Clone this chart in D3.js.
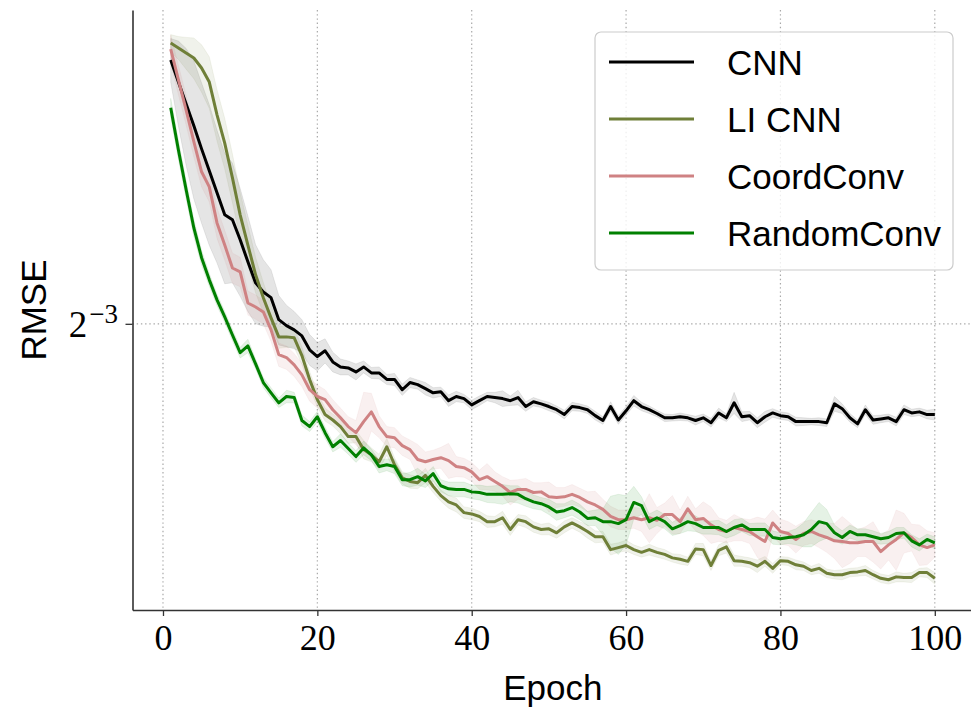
<!DOCTYPE html>
<html>
<head>
<meta charset="utf-8">
<script src="https://cdn.jsdelivr.net/npm/d3@7"></script>
<style>
  body { margin: 0; background: #fff; }
  svg { display: block; }
</style>
</head>
<body>
<div id="chart"></div>
<script>
// epochs 1..100
var epochs = d3.range(1, 101);

var seriesNames = ["CNN", "LI CNN", "CoordConv", "RandomConv"];
var seriesColors = ["#000000", "#6f7f38", "#cf8283", "#008000"];

// mean RMSE per epoch
var cnnMean = [0.1975,0.1901,0.1830,0.1762,0.1693,0.1630,0.1569,0.1510,0.1497,0.1446,
  0.1392,0.1342,0.1321,0.1308,0.1259,0.1246,0.1237,0.1224,0.1195,0.1181,
  0.1193,0.1170,0.1160,0.1158,0.1150,0.1160,0.1148,0.1148,0.1135,0.1135,
  0.1115,0.1129,0.1125,0.1117,0.1109,0.1111,0.1094,0.1102,0.1098,0.1086,
  0.1094,0.1102,0.1100,0.1098,0.1094,0.1100,0.1083,0.1092,0.1088,0.1083,
  0.1077,0.1068,0.1083,0.1081,0.1077,0.1066,0.1057,0.1083,0.1058,0.1075,
  0.1094,0.1083,0.1077,0.1070,0.1062,0.1062,0.1064,0.1062,0.1057,0.1062,
  0.1053,0.1071,0.1062,0.1090,0.1064,0.1066,0.1053,0.1064,0.1071,0.1066,
  0.1064,0.1055,0.1055,0.1055,0.1055,0.1053,0.1088,0.1079,0.1062,0.1051,
  0.1077,0.1058,0.1060,0.1062,0.1055,0.1077,0.1071,0.1073,0.1068,0.1068];

var liMean = [0.2034,0.2017,0.1999,0.1982,0.1948,0.1901,0.1796,0.1710,0.1610,0.1510,
  0.1433,0.1361,0.1308,0.1263,0.1222,0.1222,0.1220,0.1183,0.1135,0.1096,
  0.1068,0.1058,0.1046,0.1028,0.1028,0.1005,0.0996,0.0984,0.1010,0.0979,
  0.0957,0.0951,0.0949,0.0961,0.0943,0.0928,0.0918,0.0913,0.0901,0.0899,
  0.0895,0.0887,0.0887,0.0893,0.0875,0.0890,0.0887,0.0879,0.0875,0.0876,
  0.0870,0.0879,0.0885,0.0879,0.0872,0.0864,0.0864,0.0845,0.0848,0.0851,
  0.0845,0.0841,0.0845,0.0841,0.0838,0.0833,0.0831,0.0828,0.0846,0.0845,
  0.0822,0.0844,0.0849,0.0829,0.0828,0.0826,0.0821,0.0828,0.0818,0.0829,
  0.0828,0.0823,0.0821,0.0815,0.0818,0.0811,0.0809,0.0809,0.0812,0.0813,
  0.0815,0.0809,0.0804,0.0802,0.0806,0.0805,0.0805,0.0812,0.0812,0.0804];

var coordMean = [0.2013,0.1908,0.1811,0.1714,0.1627,0.1585,0.1489,0.1433,0.1377,0.1368,
  0.1296,0.1287,0.1276,0.1237,0.1185,0.1179,0.1164,0.1144,0.1115,0.1102,
  0.1096,0.1077,0.1062,0.1046,0.1035,0.1055,0.1073,0.1046,0.1028,0.1026,
  0.1012,0.1005,0.0988,0.0984,0.0988,0.0991,0.0986,0.0976,0.0974,0.0967,
  0.0954,0.0959,0.0951,0.0943,0.0933,0.0938,0.0938,0.0933,0.0934,0.0926,
  0.0925,0.0926,0.0930,0.0925,0.0918,0.0913,0.0906,0.0895,0.0890,0.0890,
  0.0893,0.0890,0.0893,0.0889,0.0898,0.0898,0.0887,0.0907,0.0890,0.0892,
  0.0882,0.0875,0.0872,0.0878,0.0875,0.0872,0.0864,0.0857,0.0885,0.0872,
  0.0869,0.0860,0.0869,0.0872,0.0867,0.0863,0.0858,0.0857,0.0855,0.0855,
  0.0857,0.0857,0.0842,0.0852,0.0860,0.0870,0.0863,0.0852,0.0848,0.0852];

var randMean = [0.1818,0.1690,0.1577,0.1476,0.1402,0.1349,0.1303,0.1265,0.1226,0.1189,
  0.1203,0.1166,0.1129,0.1109,0.1090,0.1102,0.1100,0.1057,0.1046,0.1064,
  0.1035,0.1010,0.1021,0.1007,0.0993,0.1008,0.0996,0.0976,0.0979,0.0976,
  0.0954,0.0954,0.0959,0.0952,0.0964,0.0944,0.0939,0.0938,0.0938,0.0934,
  0.0933,0.0930,0.0930,0.0930,0.0931,0.0930,0.0923,0.0918,0.0915,0.0910,
  0.0902,0.0904,0.0909,0.0902,0.0892,0.0893,0.0887,0.0887,0.0884,0.0890,
  0.0917,0.0912,0.0887,0.0893,0.0887,0.0876,0.0881,0.0887,0.0884,0.0878,
  0.0878,0.0878,0.0872,0.0878,0.0882,0.0875,0.0875,0.0875,0.0863,0.0861,
  0.0863,0.0864,0.0867,0.0875,0.0887,0.0884,0.0870,0.0863,0.0872,0.0867,
  0.0867,0.0864,0.0861,0.0863,0.0869,0.0870,0.0858,0.0852,0.0860,0.0855];

// standard deviation per epoch (shaded bands)
var cnnStd = [0.0075,0.0140,0.0185,0.0210,0.0205,0.0198,0.0180,0.0170,0.0155,0.0135,
  0.0115,0.0092,0.0076,0.0065,0.0054,0.0045,0.0040,0.0035,0.0032,0.0029,
  0.0025,0.0020,0.0016,0.0014,0.0016,0.0012,0.0011,0.0012,0.0010,0.0012,
  0.0011,0.0010,0.0009,0.0012,0.0010,0.0009,0.0011,0.0010,0.0008,0.0009,
  0.0009,0.0008,0.0010,0.0015,0.0009,0.0014,0.0009,0.0008,0.0007,0.0008,
  0.0007,0.0008,0.0008,0.0007,0.0007,0.0008,0.0007,0.0009,0.0008,0.0008,
  0.0010,0.0008,0.0007,0.0006,0.0007,0.0006,0.0007,0.0006,0.0008,0.0007,
  0.0008,0.0009,0.0007,0.0020,0.0009,0.0008,0.0009,0.0010,0.0008,0.0007,
  0.0007,0.0008,0.0007,0.0006,0.0007,0.0007,0.0014,0.0009,0.0008,0.0007,
  0.0009,0.0008,0.0007,0.0007,0.0008,0.0009,0.0007,0.0007,0.0008,0.0010];

var liStd = [0.0030,0.0040,0.0055,0.0070,0.0080,0.0085,0.0080,0.0075,0.0068,0.0060,
  0.0050,0.0042,0.0035,0.0028,0.0024,0.0022,0.0020,0.0018,0.0016,0.0014,
  0.0012,0.0011,0.0013,0.0012,0.0011,0.0016,0.0012,0.0013,0.0015,0.0012,
  0.0010,0.0011,0.0010,0.0012,0.0010,0.0009,0.0010,0.0011,0.0009,0.0009,
  0.0008,0.0009,0.0008,0.0010,0.0009,0.0008,0.0009,0.0008,0.0008,0.0009,
  0.0008,0.0009,0.0008,0.0008,0.0010,0.0009,0.0008,0.0008,0.0007,0.0008,
  0.0007,0.0007,0.0008,0.0007,0.0007,0.0006,0.0007,0.0006,0.0008,0.0009,
  0.0007,0.0008,0.0009,0.0008,0.0007,0.0007,0.0009,0.0007,0.0007,0.0006,
  0.0006,0.0007,0.0006,0.0006,0.0007,0.0006,0.0006,0.0007,0.0006,0.0006,
  0.0007,0.0006,0.0006,0.0006,0.0007,0.0006,0.0007,0.0006,0.0007,0.0008];

var coordStd = [0.0050,0.0049,0.0047,0.0045,0.0042,0.0041,0.0039,0.0037,0.0036,0.0035,
  0.0027,0.0027,0.0026,0.0025,0.0024,0.0024,0.0023,0.0023,0.0022,0.0022,
  0.0019,0.0019,0.0018,0.0018,0.0022,0.0055,0.0035,0.0020,0.0018,0.0018,
  0.0017,0.0017,0.0026,0.0017,0.0016,0.0018,0.0030,0.0017,0.0016,0.0016,
  0.0016,0.0022,0.0016,0.0016,0.0020,0.0016,0.0018,0.0016,0.0015,0.0024,
  0.0016,0.0015,0.0016,0.0015,0.0016,0.0022,0.0016,0.0016,0.0015,0.0015,
  0.0016,0.0018,0.0038,0.0020,0.0018,0.0030,0.0018,0.0020,0.0017,0.0026,
  0.0028,0.0018,0.0017,0.0020,0.0017,0.0018,0.0030,0.0034,0.0020,0.0019,
  0.0018,0.0020,0.0018,0.0018,0.0019,0.0022,0.0026,0.0038,0.0030,0.0020,
  0.0022,0.0030,0.0025,0.0022,0.0045,0.0030,0.0020,0.0030,0.0025,0.0018];

var randStd = [0.0030,0.0028,0.0025,0.0022,0.0018,0.0015,0.0013,0.0012,0.0012,0.0011,
  0.0014,0.0010,0.0010,0.0010,0.0009,0.0012,0.0010,0.0010,0.0009,0.0010,
  0.0010,0.0009,0.0012,0.0010,0.0010,0.0012,0.0010,0.0011,0.0010,0.0012,
  0.0010,0.0012,0.0014,0.0011,0.0012,0.0010,0.0011,0.0012,0.0012,0.0011,
  0.0012,0.0013,0.0014,0.0016,0.0013,0.0014,0.0012,0.0011,0.0010,0.0012,
  0.0013,0.0011,0.0012,0.0012,0.0011,0.0012,0.0020,0.0040,0.0046,0.0038,
  0.0026,0.0014,0.0012,0.0012,0.0011,0.0010,0.0012,0.0014,0.0012,0.0010,
  0.0010,0.0011,0.0010,0.0012,0.0010,0.0009,0.0010,0.0010,0.0010,0.0009,
  0.0009,0.0012,0.0018,0.0026,0.0030,0.0022,0.0012,0.0010,0.0010,0.0009,
  0.0009,0.0009,0.0008,0.0009,0.0009,0.0008,0.0009,0.0009,0.0008,0.0009];

var xTicks = [0, 20, 40, 60, 80, 100];
var yTicks = [0.125];
var xDomain = [-3.95, 104.95];
var yDomain = [0.0761, 0.2154];

var means = [cnnMean, liMean, coordMean, randMean];
var stds = [cnnStd, liStd, coordStd, randStd];

var width = 971, height = 711;
var mLeft = 132.5, mRight = 973, mTop = 10, mBottom = 610;

var svg = d3.select("#chart").append("svg")
  .attr("width", width)
  .attr("height", height);

var x = d3.scaleLinear().domain(xDomain).range([mLeft, mRight]);
var y = d3.scaleLog().base(2).domain(yDomain).range([mBottom, mTop]);

// grid
var grid = svg.append("g");
grid.selectAll("line.vx")
  .data(xTicks)
  .enter().append("line")
  .attr("x1", function(d) { return x(d); })
  .attr("x2", function(d) { return x(d); })
  .attr("y1", mTop).attr("y2", mBottom)
  .attr("stroke", "#a8a8a8").attr("stroke-width", 1.2)
  .attr("stroke-dasharray", "1.4,2.8");
grid.selectAll("line.hy")
  .data(yTicks)
  .enter().append("line")
  .attr("x1", mLeft).attr("x2", mRight)
  .attr("y1", function(d) { return y(d); })
  .attr("y2", function(d) { return y(d); })
  .attr("stroke", "#a8a8a8").attr("stroke-width", 1.2)
  .attr("stroke-dasharray", "1.4,2.8");

// bands
var band = d3.area()
  .x(function(d) { return x(d.e); })
  .y0(function(d) { return y(d.m - d.s); })
  .y1(function(d) { return y(d.m + d.s); });

var line = d3.line()
  .x(function(d) { return x(d.e); })
  .y(function(d) { return y(d.m); });

var rows = means.map(function(m, k) {
  return epochs.map(function(e, i) { return { e: e, m: m[i], s: stds[k][i] }; });
});

var plot = svg.append("g");
rows.forEach(function(r, k) {
  plot.append("path")
    .attr("d", band(r))
    .attr("fill", seriesColors[k])
    .attr("fill-opacity", k == 2 ? 0.12 : 0.1)
    .attr("stroke", seriesColors[k])
    .attr("stroke-opacity", 0.08)
    .attr("stroke-width", 1);
});
rows.forEach(function(r, k) {
  plot.append("path")
    .attr("d", line(r))
    .attr("fill", "none")
    .attr("stroke", seriesColors[k])
    .attr("stroke-width", 3)
    .attr("stroke-linejoin", "round");
});

// axes
var xAxis = d3.axisBottom(x).tickValues(xTicks).tickSize(6).tickSizeOuter(0).tickPadding(8);
var gx = svg.append("g")
  .attr("transform", "translate(0," + mBottom + ")")
  .call(xAxis);
gx.select(".domain").attr("stroke", "#333").attr("stroke-width", 1.6);
gx.selectAll(".tick line").attr("stroke", "#333").attr("stroke-width", 1.3);
gx.selectAll(".tick text")
  .attr("font-family", "'Liberation Serif', serif")
  .attr("font-size", 36)
  .attr("fill", "#000");

var yAxis = d3.axisLeft(y).tickValues(yTicks).tickSize(7).tickSizeOuter(0).tickFormat("");
var gy = svg.append("g")
  .attr("transform", "translate(" + mLeft + ",0)")
  .call(yAxis);
gy.select(".domain").attr("stroke", "#333").attr("stroke-width", 1.6);
gy.selectAll(".tick line").attr("stroke", "#333").attr("stroke-width", 1.3);

var ylab = svg.append("text")
  .attr("x", 118)
  .attr("y", y(0.125) + 13)
  .attr("text-anchor", "end")
  .attr("font-family", "'Liberation Serif', serif")
  .attr("font-size", 37)
  .attr("fill", "#000");
ylab.append("tspan").text("2");
ylab.append("tspan").text("\u22123").attr("font-size", 27).attr("dx", 2).attr("dy", -14);

// axis titles
svg.append("text")
  .attr("x", (mLeft + mRight) / 2)
  .attr("y", 700)
  .attr("text-anchor", "middle")
  .attr("font-family", "'Liberation Sans', sans-serif")
  .attr("font-size", 35)
  .text("Epoch");

svg.append("text")
  .attr("transform", "translate(46," + (mTop + mBottom) / 2 + ") rotate(-90)")
  .attr("text-anchor", "middle")
  .attr("font-family", "'Liberation Sans', sans-serif")
  .attr("font-size", 35)
  .text("RMSE");

// legend
var legend = svg.append("g");
legend.append("rect")
  .attr("x", 595).attr("y", 32)
  .attr("width", 358).attr("height", 238)
  .attr("rx", 6)
  .attr("fill", "#fff").attr("fill-opacity", 0.8)
  .attr("stroke", "#cccccc").attr("stroke-width", 1.2);

var item = legend.selectAll("g.item")
  .data(seriesNames)
  .enter().append("g")
  .attr("transform", function(d, i) { return "translate(0," + (62 + i * 57) + ")"; });
item.append("line")
  .attr("x1", 609).attr("x2", 694)
  .attr("y1", 0).attr("y2", 0)
  .attr("stroke", function(d, i) { return seriesColors[i]; })
  .attr("stroke-width", 3);
item.append("text")
  .attr("x", 727)
  .attr("y", 13)
  .attr("font-family", "'Liberation Sans', sans-serif")
  .attr("font-size", 35)
  .text(function(d) { return d; });
</script>
</body>
</html>
